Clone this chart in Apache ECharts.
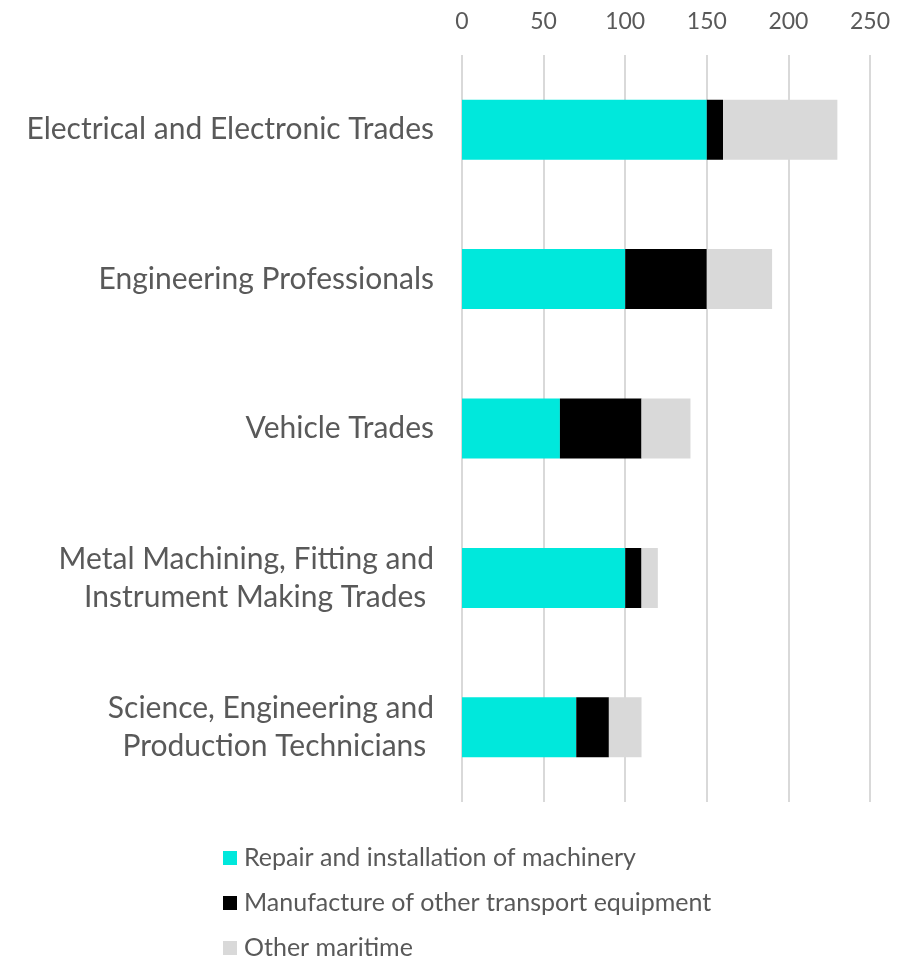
<!DOCTYPE html>
<html>
<head>
    <meta charset="utf-8">
    <script src="https://cdnjs.cloudflare.com/ajax/libs/echarts/6.0.0/echarts.min.js"></script>
</head>
<body>
    <div id="main"></div>
    <style>
html,body { margin: 0; padding: 0; background: #fff; }
#main { width: 920px; height: 960px; }
    </style>
    <script type="text/javascript">
var categories = [
    'Electrical and Electronic Trades',
    'Engineering Professionals',
    'Vehicle Trades',
    'Metal Machining, Fitting and\nInstrument Making Trades ',
    'Science, Engineering and\nProduction Technicians '
];
var seriesNames = [
    'Repair and installation of machinery',
    'Manufacture of other transport equipment',
    'Other maritime'
];
var repairValues = [150, 100, 60, 100, 70];
var manufactureValues = [10, 50, 50, 10, 20];
var maritimeValues = [70, 40, 30, 10, 20];
var colors = ['#00e8dc', '#000000', '#d9d9d9'];

var fontFamily = 'Lato, "Open Sans", sans-serif';

function makeSeries(name, data, color) {
    return {
        name: name,
        type: 'bar',
        stack: 'total',
        barWidth: 60,
        data: data,
        itemStyle: { color: color },
        emphasis: { disabled: true }
    };
}

var option = {
    animation: false,
    textStyle: { fontFamily: fontFamily },
    grid: {
        left: 462,
        right: 50,
        top: 55,
        bottom: 158
    },
    xAxis: {
        type: 'value',
        position: 'top',
        min: 0,
        max: 250,
        interval: 50,
        axisLine: { show: false },
        axisTick: { show: false },
        axisLabel: { color: '#595959', fontSize: 23, margin: 22, fontFamily: fontFamily },
        splitLine: { lineStyle: { color: '#d9d9d9', width: 2 } }
    },
    yAxis: {
        type: 'category',
        inverse: true,
        data: categories,
        axisLine: { show: false },
        axisTick: { show: false },
        axisLabel: {
            color: '#595959',
            fontSize: 30,
            lineHeight: 38,
            margin: 28,
            align: 'right',
            fontFamily: fontFamily
        }
    },
    legend: {
        orient: 'vertical',
        left: 223,
        top: 844,
        width: 600,
        height: 125,
        itemGap: 17,
        itemWidth: 14,
        itemHeight: 14,
        icon: 'rect',
        padding: 0,
        textStyle: {
            color: '#595959',
            fontSize: 25,
            lineHeight: 28,
            fontFamily: fontFamily,
            padding: [0, 0, 0, 2]
        },
        data: seriesNames
    },
    series: [
        makeSeries(seriesNames[0], repairValues, colors[0]),
        makeSeries(seriesNames[1], manufactureValues, colors[1]),
        makeSeries(seriesNames[2], maritimeValues, colors[2])
    ]
};
var chart = echarts.init(document.getElementById('main'));
chart.setOption(option);
    </script>
</body>
</html>
